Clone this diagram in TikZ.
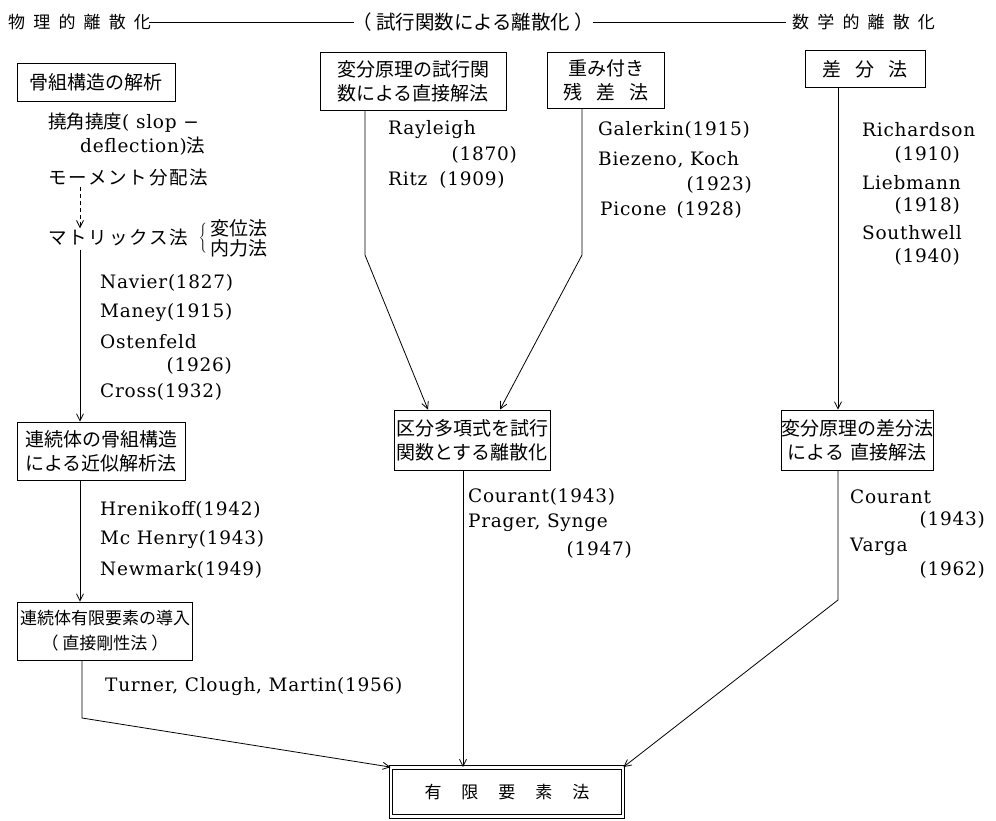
\documentclass[tikz,border=0pt]{standalone}
\usepackage{fontspec}
\newfontfamily\jp{Noto Sans CJK JP}
\newfontfamily\jpsp[LetterSpace=48]{Noto Sans CJK JP}
\newfontfamily\jpks[LetterSpace=10]{Noto Sans CJK JP}
\newfontfamily\lat[LetterSpace=4]{DejaVu Serif}
\usetikzlibrary{arrows.meta}
\begin{document}
\begin{tikzpicture}[x=1pt,y=-1pt,
 box/.style={draw,line width=0.8pt,inner sep=0pt,align=center,font=\jp\fontsize{19}{24}\selectfont},
 lbl/.style={inner sep=0pt,font=\lat\fontsize{18.5}{24}\selectfont},
 jtx/.style={inner sep=0pt,font=\jpks\fontsize{18.5}{24}\selectfont},
 arr/.style={line width=0.8pt,-{Straight Barb[length=7pt,width=7pt]}},
 ln/.style={line width=0.8pt}]
\useasboundingbox (0,0) rectangle (996,821);
% header
\node[inner sep=0pt,anchor=west,font=\jpsp\fontsize{17}{20}\selectfont] (h1) at (8,22) {物理的離散化};
\node[inner sep=0pt,anchor=west,font=\jp\fontsize{19.5}{20}\selectfont] (h2) at (352,22) {（ 試行関数による離散化 ）};
\node[inner sep=0pt,anchor=west,font=\jpsp\fontsize{17}{20}\selectfont] (h3) at (792,22) {数学的離散化};
\draw[ln] ([xshift=-2pt]h1.east) -- ([xshift=2pt]h2.west);
\draw[ln] ([xshift=-2pt]h2.east) -- ([xshift=-6pt]h3.west);
% boxes
\node[box,minimum width=158pt,minimum height=38pt] (A) at (96,82) {骨組構造の解析};
\node[box,minimum width=186pt,minimum height=58pt] (B) at (413,81) {変分原理の試行関\\数による直接解法};
\node[box,minimum width=117pt,minimum height=56pt] (C) at (606,80) {重み付き\\残\hspace{14pt}差\hspace{14pt}法};
\node[box,minimum width=120pt,minimum height=37pt] (D) at (865,69) {差\hspace{14pt}分\hspace{14pt}法};
\node[box,minimum width=168pt,minimum height=58pt] (E) at (101,451) {連続体の骨組構造\\による近似解析法};
\node[box,minimum width=175pt,minimum height=58pt,font=\jp\fontsize{17}{25}\selectfont] (F) at (105,631) {連続体有限要素の導入\\（ 直接剛性法 ）};
\node[box,minimum width=156pt,minimum height=60pt] (G) at (472,440) {区分多項式を試行\\関数とする離散化};
\node[box,minimum width=150pt,minimum height=60pt] (H) at (857,440) {変分原理の差分法\\による\hspace{6pt}直接解法};
\node[box,double,double distance=2.5pt,minimum width=232pt,minimum height=49pt,font=\jp\fontsize{17}{20}\selectfont] (I) at (507,792) {有\hspace{20pt}限\hspace{20pt}要\hspace{20pt}素\hspace{20pt}法};
% left column
\node[lbl,anchor=west] (t1) at (48,123) {{\jp 撓角撓度}( slop −};
\node[lbl,anchor=west] (t2) at (80,146) {deflection){\jp 法}};
\node[jtx,anchor=west] (t3) at (48,178) {モーメント分配法};
\node[jtx,anchor=west] (t4) at (48,237) {マトリックス法};
\node[inner sep=0pt,font=\fontsize{14}{16}\selectfont] (br) at (203,238) {$\Bigg\{$};
\node[inner sep=0pt,anchor=west,font=\jp\fontsize{19}{20}\selectfont] (t5) at (210,228) {変位法};
\node[inner sep=0pt,anchor=west,font=\jp\fontsize{19}{20}\selectfont] (t6) at (210,248) {内力法};
\coordinate (lx) at (80,0);
\draw[arr,dashed,dash pattern=on 4pt off 3pt] (t3.south -| lx) -- (t4.north -| lx);
\draw[arr] ([yshift=-4pt]t4.south -| lx) -- (E.north -| lx);
\node[lbl,anchor=west] (n1) at (100,283) {Navier(1827)};
\node[lbl,anchor=west] (n2) at (100,313) {Maney(1915)};
\node[lbl,anchor=west] (n3) at (100,342) {Ostenfeld};
\node[lbl,anchor=east] (n4) at (232,366) {(1926)};
\node[lbl,anchor=west] (n5) at (100,392) {Cross(1932)};
\draw[arr] (E.south -| lx) -- (F.north -| lx);
\node[lbl,anchor=west] (n6) at (100,510) {Hrenikoff(1942)};
\node[lbl,anchor=west] (n7) at (100,540) {Mc Henry(1943)};
\node[lbl,anchor=west] (n8) at (100,570) {Newmark(1949)};
\coordinate (bend1) at (82,718);
\draw[arr] (F.south -| bend1) -- (bend1) -- (I.north west);
\node[lbl,anchor=west] (n9) at (105,687) {Turner,\ Clough,\ Martin(1956)};
% middle
\coordinate (bB) at (365,255);
\coordinate (bC) at (582,255);
\draw[arr] (B.south -| bB) -- (bB) -- ([xshift=-44pt]G.north);
\draw[arr] (C.south -| bC) -- (bC) -- ([xshift=28pt]G.north);
\node[lbl,anchor=west] (m1) at (388,130) {Rayleigh};
\node[lbl,anchor=east] (m2) at (517,155) {(1870)};
\node[lbl,anchor=west] (m3) at (388,180) {Ritz\hspace{12pt}(1909)};
\node[lbl,anchor=west] (m4) at (598,130) {Galerkin(1915)};
\node[lbl,anchor=west] (m5) at (598,160) {Biezeno,\ Koch};
\node[lbl,anchor=east] (m6) at (752,185) {(1923)};
\node[lbl,anchor=west] (m7) at (600,210) {Picone\hspace{10pt}(1928)};
\coordinate (gx) at (463,0);
\draw[arr] (G.south -| gx) -- (I.north -| gx);
\node[lbl,anchor=west] (m8) at (468,497) {Courant(1943)};
\node[lbl,anchor=west] (m9) at (468,523) {Prager,\ Synge};
\node[lbl,anchor=east] (m10) at (632,550) {(1947)};
% right
\coordinate (hx) at (838,0);
\draw[arr] (D.south -| hx) -- (H.north -| hx);
\node[lbl,anchor=west] (r1) at (862,130) {Richardson};
\node[lbl,anchor=east] (r2) at (960,155) {(1910)};
\node[lbl,anchor=west] (r3) at (862,183) {Liebmann};
\node[lbl,anchor=east] (r4) at (960,206) {(1918)};
\node[lbl,anchor=west] (r5) at (862,233) {Southwell};
\node[lbl,anchor=east] (r6) at (960,257) {(1940)};
\coordinate (bend2) at (838,600);
\draw[arr] (H.south -| bend2) -- (bend2) -- (I.north east);
\node[lbl,anchor=west] (r7) at (850,497) {Courant};
\node[lbl,anchor=east] (r8) at (985,520) {(1943)};
\node[lbl,anchor=west] (r9) at (850,547) {Varga};
\node[lbl,anchor=east] (r10) at (985,570) {(1962)};
\end{tikzpicture}
\end{document}
